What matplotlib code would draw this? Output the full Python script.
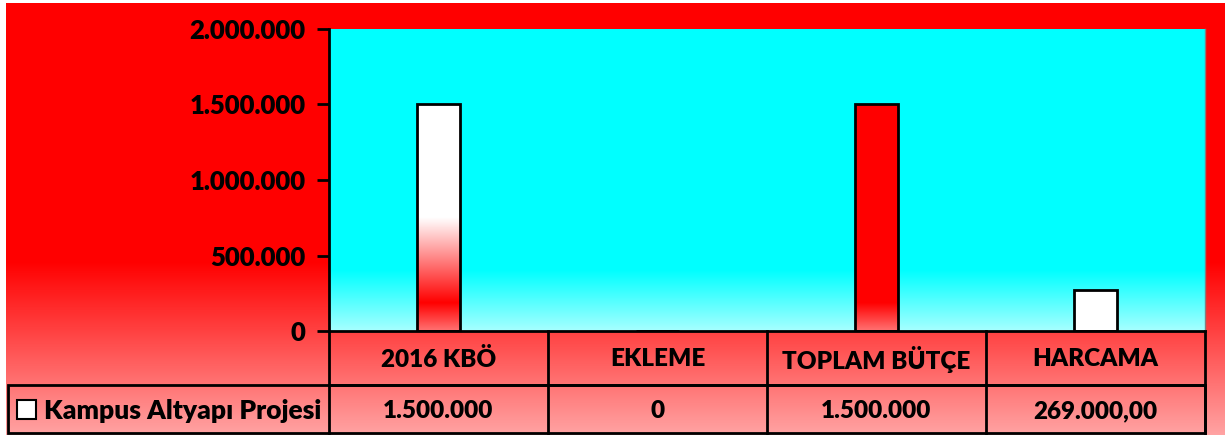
import numpy as np
import matplotlib.pyplot as plt
from matplotlib.colors import LinearSegmentedColormap
from matplotlib.patches import Rectangle
from matplotlib.transforms import blended_transform_factory
from matplotlib.ticker import FuncFormatter, MultipleLocator

plt.rcParams['font.family'] = ['Lato', 'DejaVu Sans']
plt.rcParams['font.weight'] = 'heavy'

# data
categories = ['2016 KBÖ', 'EKLEME', 'TOPLAM BÜTÇE', 'HARCAMA']
values = [1500000, 0, 1500000, 269000]
value_labels = ['1.500.000', '0', '1.500.000', '269.000,00']
series_name = 'Kampus Altyapı Projesi'

# gradient fills
bg_cmap = LinearSegmentedColormap.from_list('bg', [(0, '#ff0000'), (0.6, '#ff0000'), (1, '#ffa3a3')])
pa_cmap = LinearSegmentedColormap.from_list('pa', [(0, '#00ffff'), (0.8, '#00ffff'), (1, '#a6ffff')])
wr_cmap = LinearSegmentedColormap.from_list('wr', [(0, '#ffffff'), (0.5, '#ffffff'), (0.877, '#ff0000'), (1, '#ff7272')])
rd_cmap = LinearSegmentedColormap.from_list('rd', [(0, '#ff0000'), (0.877, '#ff0000'), (1, '#ff7272')])
wh_cmap = LinearSegmentedColormap.from_list('wh', ['#ffffff', '#ffffff'])
bar_cmaps = [wr_cmap, None, rd_cmap, wh_cmap]
grad = np.linspace(0, 1, 256).reshape(-1, 1)

fig = plt.figure(figsize=(12.25, 4.4), dpi=100)

# chart area background
bg = fig.add_axes([0, 0, 1, 1])
bg.set_xlim(0, 1225)
bg.set_ylim(440, 0)
bg.axis('off')
bg.imshow(grad, extent=(6, 1225, 435, 3), aspect='auto', cmap=bg_cmap)

ax = fig.add_axes([329/1225, 109/440, 876/1225, 302/440])
ax.patch.set_alpha(0)
x = np.arange(len(categories))
ax.imshow(grad, extent=(-0.5, 3.5, 0, 2e6), aspect='auto', cmap=pa_cmap, zorder=0)

bars = ax.bar(x, values, width=0.2, facecolor='none', edgecolor='black', linewidth=2, zorder=3)
for b, cm in zip(bars, bar_cmaps):
    if cm is None or b.get_height() == 0:
        continue
    x0 = b.get_x()
    im = ax.imshow(grad, extent=(x0, x0 + b.get_width(), 0, b.get_height()),
                   aspect='auto', cmap=cm, zorder=2)
    im.set_clip_path(b)

ax.set_xlim(-0.5, 3.5)
ax.set_ylim(0, 2e6)
ax.yaxis.set_major_locator(MultipleLocator(500000))
ax.yaxis.set_major_formatter(FuncFormatter(lambda v, p: f"{int(v):,}".replace(',', '.')))
ax.tick_params(axis='y', length=9, width=2, pad=8, labelsize=18.5)
for t in ax.get_yticklabels():
    t.set_fontweight('heavy')
ax.set_xticks([])
ax.spines['left'].set_linewidth(2)
ax.spines['bottom'].set_linewidth(2)
ax.spines['top'].set_visible(False)
ax.spines['right'].set_color('#808080')
ax.spines['right'].set_linewidth(1)

# data table below the axis
tr = blended_transform_factory(ax.transData, ax.transAxes)
hh = 54/302
vh = 48/302
left = -0.5 - 321/219
lw = 2
for i in range(len(categories) + 1):
    ax.plot([i - 0.5, i - 0.5], [0, -hh - vh], color='black', lw=lw, transform=tr, clip_on=False)
ax.plot([-0.5, 3.5], [-hh, -hh], color='black', lw=lw, transform=tr, clip_on=False)
ax.add_patch(Rectangle((left, -hh - vh), 3.5 - left, vh, fill=False, edgecolor='black',
                       lw=lw, transform=tr, clip_on=False))
for i, (c, v) in enumerate(zip(categories, value_labels)):
    ax.text(i, -hh/2 - 1/302, c, ha='center', va='center', fontsize=17.5, fontweight='heavy', transform=tr)
    ax.text(i, -hh - vh/2 - 2/302, v, ha='center', va='center', fontsize=17.5, fontweight='heavy', transform=tr)

# legend key + series name
key_x = left + 9/219
ax.add_patch(Rectangle((key_x, -hh - vh/2 - 10/302), 19/219, 19/302, facecolor='white',
                       edgecolor='black', lw=1.5, transform=tr, clip_on=False))
ax.text(key_x + 27/219, -hh - vh/2 - 2/302, series_name, ha='left', va='center', fontsize=19,
        fontweight='heavy', transform=tr)

fig.savefig('out.png', dpi=100)
